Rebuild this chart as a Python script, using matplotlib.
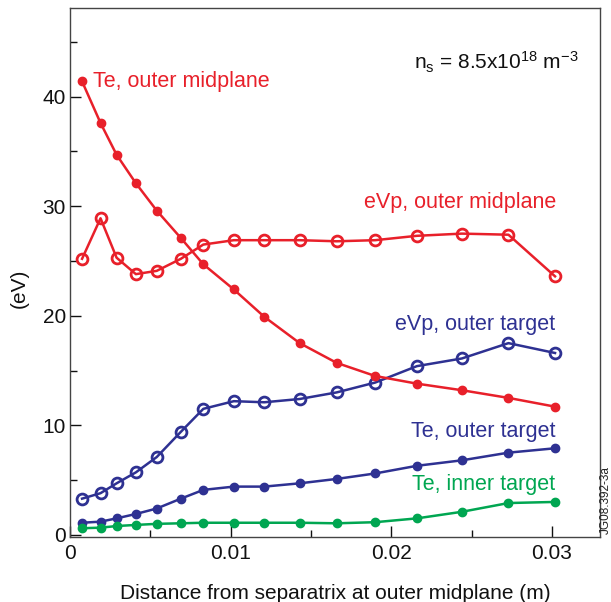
import numpy as np
import matplotlib.pyplot as plt
from matplotlib.ticker import MultipleLocator

plt.rcParams['font.family'] = ['Liberation Sans', 'DejaVu Sans']
plt.rcParams['mathtext.fontset'] = 'custom'
plt.rcParams['mathtext.rm'] = 'Liberation Sans'
plt.rcParams['mathtext.it'] = 'Liberation Sans:italic'

# distance from separatrix (m)
x = [0.00075, 0.0019, 0.0029, 0.0041, 0.0054, 0.0069, 0.0083, 0.0102,
     0.0121, 0.0143, 0.0166, 0.0190, 0.0216, 0.0244, 0.0273, 0.0302]

te_outer_mid = [41.4, 37.6, 34.7, 32.1, 29.6, 27.1, 24.7, 22.4,
                19.9, 17.5, 15.7, 14.5, 13.8, 13.2, 12.5, 11.7]
evp_outer_mid = [25.2, 28.9, 25.3, 23.8, 24.1, 25.2, 26.5, 26.9,
                 26.9, 26.9, 26.8, 26.9, 27.3, 27.5, 27.4, 23.6]
evp_outer_tgt = [3.3, 3.8, 4.7, 5.7, 7.1, 9.4, 11.5, 12.2,
                 12.1, 12.4, 13.0, 13.9, 15.4, 16.1, 17.5, 16.6]
te_outer_tgt = [1.1, 1.2, 1.5, 1.9, 2.4, 3.3, 4.1, 4.4,
                4.4, 4.7, 5.1, 5.6, 6.3, 6.8, 7.5, 7.9]
te_inner_tgt = [0.6, 0.65, 0.8, 0.9, 1.0, 1.05, 1.1, 1.1,
                1.1, 1.1, 1.05, 1.15, 1.5, 2.1, 2.9, 3.0]

RED = "#e8202a"
BLUE = "#2e3192"
GREEN = "#00a651"

fig = plt.figure(figsize=(6.11, 6.02), dpi=100)
ax = fig.add_axes([0.1146, 0.108, 0.8674, 0.8787])

# open circles (eVp), line shows through them
ax.plot(x, evp_outer_mid, color=RED, lw=1.8, marker='o', ms=7.8,
        mfc='none', mec=RED, mew=2.0, zorder=3)
ax.plot(x, evp_outer_tgt, color=BLUE, lw=1.8, marker='o', ms=7.8,
        mfc='none', mec=BLUE, mew=2.0, zorder=3)

# filled dots (Te)
ax.plot(x, te_outer_mid, color=RED, lw=1.8, marker='o', ms=6, zorder=4)
ax.plot(x, te_outer_tgt, color=BLUE, lw=1.8, marker='o', ms=6, zorder=4)
ax.plot(x, te_inner_tgt, color=GREEN, lw=1.8, marker='o', ms=6, zorder=4)

# labels on curves
ax.text(0.00143, 41.4, "Te, outer midplane", color=RED, fontsize=15.5,
        ha='left', va='center')
ax.text(0.0303, 30.3, "eVp, outer midplane", color=RED, fontsize=15.5,
        ha='right', va='center')
ax.text(0.0302, 19.2, "eVp, outer target", color=BLUE, fontsize=15.5,
        ha='right', va='center')
ax.text(0.0302, 9.45, "Te, outer target", color=BLUE, fontsize=15.5,
        ha='right', va='center')
ax.text(0.0302, 4.6, "Te, inner target", color=GREEN, fontsize=15.5,
        ha='right', va='center')

ax.text(0.0214, 43.1, r"n$_\mathrm{s}$ = 8.5x10$^{18}$ m$^{-3}$",
        color="#111111", fontsize=15, ha='left', va='center')

ax.set_xlim(0, 0.033)
ax.set_ylim(-0.2, 48.1)

ax.xaxis.set_minor_locator(MultipleLocator(0.005))
ax.yaxis.set_major_locator(MultipleLocator(10))
ax.yaxis.set_minor_locator(MultipleLocator(5))
ax.set_xticks([0, 0.01, 0.02, 0.03])
ax.set_xticklabels(["0", "0.01", "0.02", "0.03"])

ax.tick_params(which='both', direction='in', labelsize=15, colors='#111111',
               top=False, right=False)
ax.tick_params(which='major', length=8, width=1)
ax.tick_params(which='minor', length=5, width=1)
ax.tick_params(axis='x', pad=5)
ax.tick_params(axis='y', pad=3)

for s in ax.spines.values():
    s.set_color('#444444')
    s.set_linewidth(1)

ax.set_xlabel("Distance from separatrix at outer midplane (m)",
              fontsize=15, color='#111111')
ax.xaxis.set_label_coords(0.5, -0.088)
ax.set_ylabel("(eV)", fontsize=15, color='#111111')
ax.yaxis.set_label_coords(-0.077, 0.47)

fig.text(0.991, 0.17, "JG08.392-3a", rotation=90, fontsize=8.5,
         ha='center', va='center', color='#222222')

plt.savefig("out.png", dpi=100)
